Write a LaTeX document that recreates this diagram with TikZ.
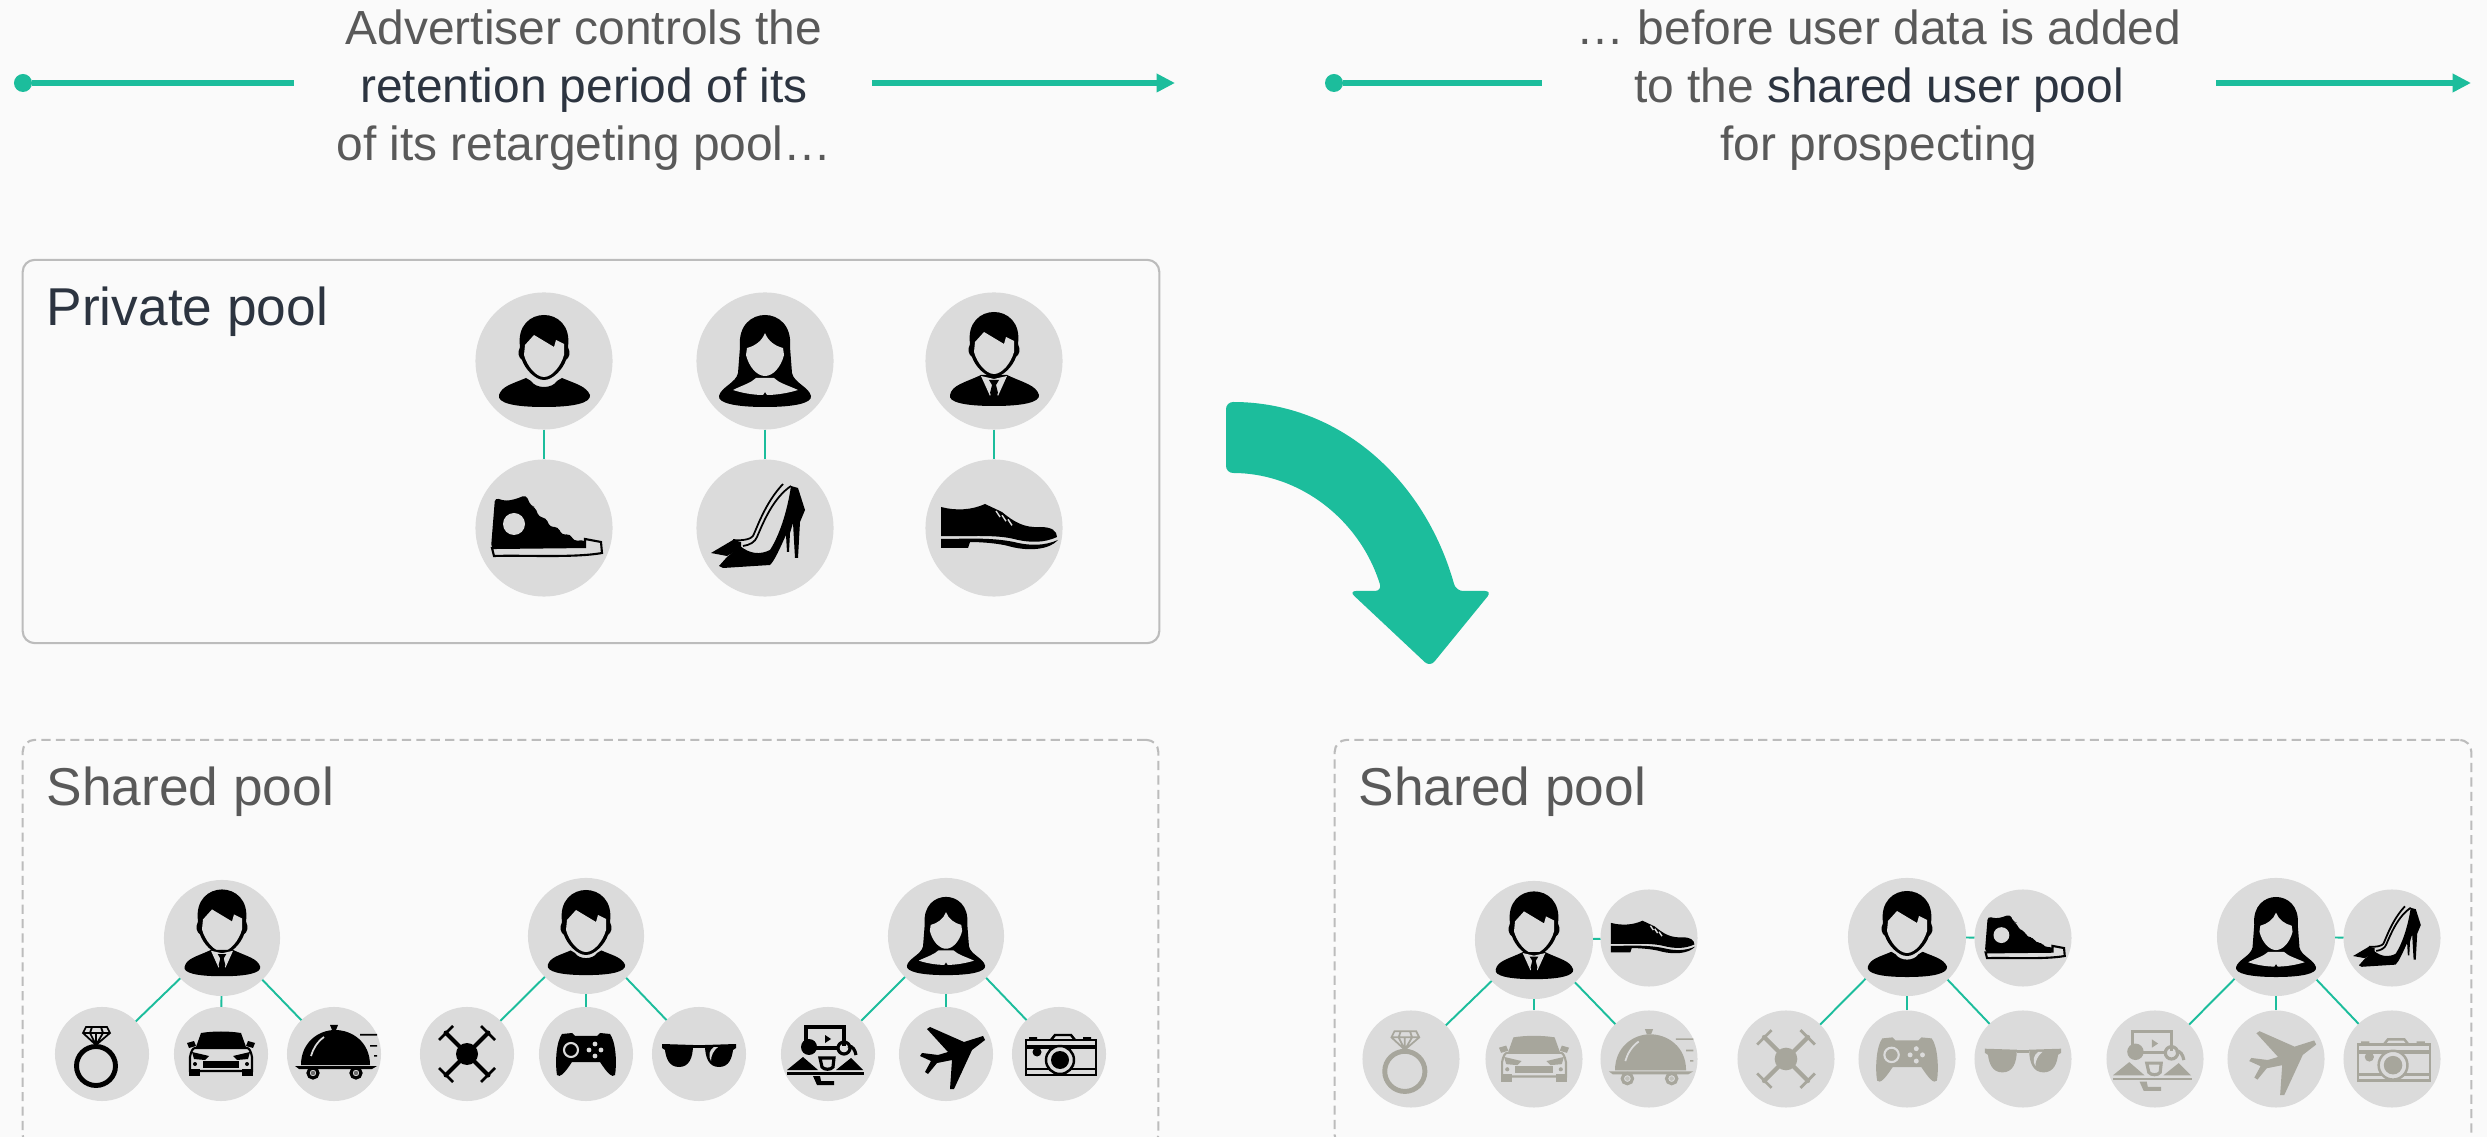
\documentclass[tikz,border=0pt]{standalone}
\usepackage{fontspec}
\setmainfont{Liberation Sans}
\usetikzlibrary{arrows.meta}
\definecolor{paper}{RGB}{250,250,250}
\definecolor{mint}{RGB}{28,189,156}
\definecolor{bubblegray}{RGB}{219,219,219}
\definecolor{ash}{RGB}{167,166,156}
\definecolor{fog}{RGB}{188,188,188}
\definecolor{slate}{RGB}{44,52,64}
\definecolor{graytext}{RGB}{89,89,89}
\tikzset{
  x=0.01cm,y=-0.01cm,
  bubble/.style={circle,fill=bubblegray,inner sep=0pt,outer sep=0pt,minimum size=#1},
  bubble/.default=1.37cm,
  link/.style={draw=mint,line width=0.55pt},
  flow/.style={draw=mint,line width=1.7pt},
  dot/.style={circle,fill=mint,inner sep=0pt,outer sep=0pt,minimum size=0.18cm},
  headline/.style={align=center,text=graytext,inner sep=0pt,
    font=\fontsize{13.62}{16.5}\selectfont},
  poolname/.style={anchor=base west,inner sep=0pt,font=\fontsize{15.15}{18}\selectfont},
  privatebox/.style={draw=fog,line width=0.6pt,rounded corners=3.4pt,inner sep=0pt},
  sharedbox/.style={privatebox,dash pattern=on 2.6pt off 1.5pt},
  % people
  pics/head/.style={code={
    \fill[#1] (-24,-14) .. controls (-27,-36) and (-13,-46) .. (0,-46) .. controls (13,-46) and (27,-36) .. (24,-14)
      .. controls (27,-8) and (25,-3) .. (22,-1) .. controls (19,8) and (9,19) .. (0,19)
      .. controls (-9,19) and (-19,8) .. (-22,-1) .. controls (-25,-3) and (-27,-8) .. (-24,-14) -- cycle;
    \fill[bubblegray] (-20,-6) -- (-19,-16) -- (-10,-26) -- (10,-14) -- (12,-21) -- (20,-17) -- (20,-6)
      .. controls (17,5) and (8,16) .. (0,16) .. controls (-8,16) and (-17,5) .. (-20,-6) -- cycle;
  }},
  pics/boy/.style={code={
    \pic at (0,0) {head=#1};
    \fill[#1] (-45,34) .. controls (-42,25) and (-32,23) .. (-18,17) -- (-13,20) .. controls (-8,28) and (8,28) .. (13,20)
      -- (18,17) .. controls (32,23) and (42,25) .. (46,34) .. controls (47,42) and (30,46) .. (0,46)
      .. controls (-30,46) and (-47,42) .. (-45,34) -- cycle;
  }},
  pics/boy/.default=black,
  pics/suit/.style={code={
    \pic at (0,-3) {head=#1};
    \fill[#1] (-44,34) .. controls (-42,24) and (-30,22) .. (-13,14) -- (13,14) .. controls (30,22) and (42,24) .. (45,34)
      .. controls (46,41) and (30,45) .. (0,45) .. controls (-30,45) and (-46,41) .. (-44,34) -- cycle;
    \fill[bubblegray] (-13,15) -- (-4,35) -- (0,24) -- (4,35) -- (13,15) -- (0,18) -- cycle;
    \fill[#1] (-5,19) -- (5,19) -- (2,24) -- (4,32) -- (0,37) -- (-4,32) -- (-2,24) -- cycle;
  }},
  pics/suit/.default=black,
  pics/girl/.style={code={
    \fill[#1] (-25,-14) .. controls (-27,-36) and (-13,-46) .. (0,-46) .. controls (13,-46) and (27,-36) .. (25,-14)
      -- (27,12) .. controls (29,22) and (44,26) .. (46,35) .. controls (47,42) and (30,46) .. (0,46)
      .. controls (-30,46) and (-47,42) .. (-46,35) .. controls (-44,26) and (-29,22) .. (-27,12) -- cycle;
    \fill[bubblegray] (-19,-6) -- (-18,-13) .. controls (-10,-15) and (-3,-20) .. (0,-28) .. controls (3,-20) and (10,-15) .. (18,-13)
      -- (19,-6) .. controls (16,6) and (8,15) .. (0,15) .. controls (-8,15) and (-16,6) .. (-19,-6) -- cycle;
    \fill[bubblegray] (-32,29) .. controls (-22,24) and (-14,22) .. (-9,17) -- (9,17) .. controls (14,22) and (22,24) .. (33,29)
      .. controls (20,33) and (8,34) .. (2,34) -- (0,31) -- (-2,34) .. controls (-8,34) and (-20,33) .. (-32,29) -- cycle;
  }},
  pics/girl/.default=black,
  % footwear
  pics/sneaker/.style={code={
    \fill[#1,rounded corners=1pt] (-49,-30) -- (-38,-27) -- (-28,-29) -- (-18,-33) -- (-13,-22) -- (-9,-21) -- (-5,-11) -- (2,-10) -- (6,-1)
      -- (14,-1) -- (18,7) -- (26,6) -- (30,13) -- (41,12) -- (44,20) -- (-53,20) -- cycle;
    \fill[bubblegray] (-30,-4) circle (11);
    \draw[#1,line width=0.6pt,fill=bubblegray] (-52,20) -- (41,19) -- (41,11) -- (57,14) -- (58,25) .. controls (30,30) and (-20,27) .. (-50,28) -- cycle;
  }},
  pics/sneaker/.default=black,
  pics/heel/.style={code={
    \fill[#1] (-54,25) -- (-32,12) -- (-24,14) -- (-24,20) -- (-38,28) -- cycle;
    \fill[#1] (-46,38) -- (-38,29) -- (-25,18) .. controls (-15,26) and (-5,27) .. (5,22) .. controls (14,8) and (22,-15) .. (26,-42)
      -- (33,-40) -- (40,-18) -- (35,-6) -- (33,30) -- (30,30) -- (28,-5) -- (25,5) -- (24,24) -- (22,24) -- (21,7)
      .. controls (15,20) and (10,32) .. (5,37) -- (-42,40) -- cycle;
    \draw[#1,line width=0.5pt] (-32,12) .. controls (-22,13) and (-14,11) .. (-12,8) .. controls (-8,0) and (0,-25) .. (18,-44);
    \draw[#1,line width=0.5pt] (-22,18) .. controls (-15,17) and (-10,14) .. (-8,9) .. controls (-2,-5) and (8,-30) .. (26,-42);
  }},
  pics/heel/.default=black,
  pics/oxford/.style={code={
    \fill[#1] (-53,-21) .. controls (-38,-17) and (-22,-18) .. (-9,-24) -- (8,-16) .. controls (20,-6) and (30,0) .. (46,-1)
      .. controls (58,-1) and (63,3) .. (63,9) .. controls (50,15) and (36,15) .. (20,11) .. controls (0,6) and (-30,9) .. (-53,8) -- cycle;
    \fill[#1] (-53,11) .. controls (-30,11) and (-5,9) .. (20,14) .. controls (36,18) and (50,18) .. (64,12)
      .. controls (55,22) and (35,23) .. (18,19) .. controls (5,15) and (-15,14) .. (-24,14) -- (-26,20) -- (-53,20) -- cycle;
    \foreach \n in {0,6,12} \draw[bubblegray,line width=0.4pt] (\n+2,-17+\n*0.7) -- (\n+6,-11+\n*0.7);
  }},
  pics/oxford/.default=black,
  % goods
  pics/ring/.style={code={
    \draw[#1,line width=1.4pt] (-6,12) circle (19.5);
    \draw[#1,line width=0.5pt] (-16,-27) -- (5,-27) -- (8,-21) -- (-6,-9) -- (-19,-21) -- cycle (-19,-21) -- (8,-21)
      (-12,-21) -- (-6,-9) -- (1,-21) (-10,-27) -- (-12,-21) (-1,-27) -- (1,-21) (-6,-21) -- (-6,-9);
  }},
  pics/car/.style={code={
    \fill[#1] (-20,-21) .. controls (-8,-23) and (8,-23) .. (20,-21) -- (25,-7) -- (-25,-7) -- cycle;
    \draw[#1,line width=0.6pt,fill=bubblegray] (-31,3) .. controls (-30,-3) and (-28,-6) .. (-26,-6) -- (26,-6)
      .. controls (28,-6) and (30,-3) .. (31,3) -- (31,17) -- (-31,17) -- cycle;
    \fill[#1] (-18,7) rectangle (18,14);
    \foreach \s in {-1,1}{
      \fill[#1] (\s*34,-11) -- (\s*27,-13) -- (\s*25,-8) -- (\s*32,-6) -- cycle;
      \fill[#1] (\s*29,-2) -- (\s*12,2) -- (\s*16,6) -- (\s*27,5) -- cycle;
      \fill[#1] (\s*32,15) rectangle (\s*21,22);
      \fill[#1] (\s*26,10) circle (2);
    }
  }},
  pics/cloche/.style={code={
    \fill[#1] (-33,11) .. controls (-33,-12) and (-15,-24) .. (1,-24) .. controls (18,-24) and (36,-12) .. (36,11) -- cycle;
    \fill[#1] (-2,-24) -- (2,-24) -- (4,-29) -- (-4,-29) -- cycle;
    \fill[#1] (-39,12) -- (43,12) -- (38,15) -- (-35,15) -- cycle;
    \draw[bubblegray,line width=0.5pt] (-10,-17) .. controls (-17,-12) and (-21,-5) .. (-23,2);
    \fill[#1] (26,-20) rectangle (43,-18.5) (36,-9) rectangle (43,-7.5) (40,1) rectangle (43,2.5);
    \foreach \s in {-21,22}{
      \draw[#1,line width=0.9pt,fill=bubblegray] (\s,19) circle (5);
      \fill[#1!50!bubblegray] (\s,19) circle (2.2);
    }
  }},
  pics/drone/.style={code={
    \foreach \sx in {-1,1} \foreach \sy in {-1,1}{
      \draw[#1,line width=1.2pt] (0,0) -- (\sx*21,\sy*21);
      \draw[#1,line width=0.8pt] (\sx*14,\sy*28) -- (\sx*28,\sy*14);
      \fill[#1] (\sx*21,\sy*21) circle (2.5);
    }
    \fill[#1] (0,0) circle (11);
  }},
  pics/gamepad/.style={code={
    \fill[#1] (-24,-20) -- (-14,-21) -- (-11,-18) -- (11,-18) -- (14,-21) -- (24,-20) .. controls (30,-12) and (31,10) .. (29,21)
      .. controls (26,24) and (22,20) .. (14,8) -- (-14,8) .. controls (-22,20) and (-26,24) .. (-29,21)
      .. controls (-31,10) and (-30,-12) .. (-24,-20) -- cycle;
    \draw[bubblegray,line width=0.6pt] (-15,-4) circle (7);
    \fill[bubblegray] (9,-10) circle (2.4) (9,2) circle (2.4) (3,-4) circle (2.4) (15,-4) circle (2.4);
  }},
  pics/shades/.style={code={
    \foreach \s in {-1,1}
      \fill[#1] (\s*37,-10) -- (\s*6,-9) .. controls (\s*6,4) and (\s*10,13) .. (\s*20,13)
        .. controls (\s*30,13) and (\s*33,4) .. (\s*34,-4) -- (\s*37,-6) -- cycle;
    \fill[#1] (-6,-9) rectangle (6,-6);
    \fill[bubblegray] (15,-7) -- (19,-7) .. controls (14,-3) and (12,2) .. (12,7) .. controls (9,2) and (10,-4) .. (15,-7) -- cycle;
  }},
  pics/dine/.style={code={
    \draw[#1,line width=0.9pt] (-22,-5) -- (-22,-27) -- (16,-27) -- (16,-8) (-12,-6) -- (10,-6);
    \fill[#1] (-3,-19) -- (-3,-11) -- (3,-15) -- cycle;
    \fill[#1] (-19,-7) circle (8);
    \draw[#1,line width=0.9pt] (16,-6) circle (6) (20,-8) .. controls (25,-8) and (27,-4) .. (28,1);
    \fill[#1] (-41,16) -- (-25,3) -- (-10,16) -- cycle (8,16) -- (23,4) -- (35,16) -- cycle;
    \fill[#1] (-41,18) rectangle (36,20.5);
    \draw[#1,line width=0.9pt] (-8,4) -- (6,4) -- (5,13) .. controls (3,16) and (-4,16) .. (-6,13) -- cycle;
    \fill[#1] (-15,22) -- (-8,22) -- (-7,27) -- (6,27) -- (6,31) -- (-11,31) -- cycle;
  }},
  pics/plane/.style={code={
    \fill[#1] (39,-14) -- (26,-4) -- (8,35) -- (4,35) -- (6,6) -- (-9,9) -- (-18,20) -- (-21,18) -- (-15,7) -- (-26,2) -- (-24,-1)
      -- (-8,1) -- (2,-2) -- (-19,-25) -- (-16,-27) -- (18,-12) -- (37,-18) -- cycle;
    \fill[#1] (-6,-15) circle (2.5) (3,-12) circle (2.5) (16,9) circle (2.5) (13,18) circle (2.5);
  }},
  pics/camera/.style={code={
    \draw[#1,line width=0.7pt] (-33,-14) rectangle (37,21);
    \draw[#1,line width=0.7pt] (-8,-14) -- (-4,-19) -- (12,-19) -- (16,-14);
    \draw[#1,line width=0.7pt] (-33,-8) -- (37,-8) (-33,-6) -- (37,-6) (-33,15) -- (37,15);
    \fill[#1] (-30,-17) rectangle (-22,-14) (24,-17) rectangle (32,-14);
    \draw[#1,line width=0.7pt,fill=bubblegray] (1,6) circle (14);
    \fill[#1] (1,6) circle (9) (-22,-2) circle (4.5);
  }},
}
\begin{document}
\begin{tikzpicture}
    \fill[paper] (0,0) rectangle (2487,1137);
    \useasboundingbox (0,0) rectangle (2487,1137);
    \clip (0,0) rectangle (2487,1137);
    % top captions
    \node[headline] (capl) at (584,90.5) {Advertiser controls the\\{\color{slate}retention period of its}\\of its retargeting pool…};
    \node[headline] (capr) at (1879,90.5) {… before user data is added\\to the {\color{slate}shared user pool}\\for prospecting};
    \foreach \xa/\xb/\xc/\xd [count=\i] in {23/294/872/1175,1334/1542/2216/2471}{
      \node[dot] (dot\i) at (\xa,83) {};
      \coordinate (a\i) at (\xb,83);
      \coordinate (b\i) at (\xc,83);
      \coordinate (c\i) at (\xd,83);
      \draw[flow] (dot\i) -- (a\i);
      \draw[flow,-{Triangle[length=5.2pt,width=5pt]}] (b\i) -- (c\i);
    }
    % pools
    \node[privatebox,minimum width=11.36cm,minimum height=3.83cm] (private) at (591,451.5) {};
    \node[sharedbox,minimum width=11.35cm,minimum height=4.07cm] (sharedl) at (590.5,943.5) {};
    \node[sharedbox,minimum width=11.36cm,minimum height=4.07cm] (sharedr) at (1903,943.5) {};
    \node[poolname,text=slate] (privname) at (46,326) {Private pool};
    \node[poolname,text=graytext] (namel) at (46,806) {Shared pool};
    \node[poolname,text=graytext] (namer) at (1358,806) {Shared pool};
    % private pool
    \foreach \x/\who/\shoe [count=\i] in {544/boy/sneaker,765/girl/heel,994/suit/oxford}{
      \node[bubble] (u\i) at (\x,361) {};
      \node[bubble] (s\i) at (\x,528) {};
      \pic at (u\i) {\who};
      \pic at (s\i) {\shoe};
      \draw[link] (u\i) -- (s\i);
    }
    % shared pool, left
    \foreach \x/\y/\who/\xa/\one/\xb/\two/\xc/\three [count=\i] in
      {222/938/suit/102/ring/221/car/334/cloche,586/936/boy/467/drone/586/gamepad/699/shades,946/936/girl/828/dine/946/plane/1059/camera}{
      \node[bubble=1.16cm] (m\i) at (\x,\y) {};
      \node[bubble=0.94cm] (ma\i) at (\xa,1054) {};
      \node[bubble=0.94cm] (mb\i) at (\xb,1054) {};
      \node[bubble=0.94cm] (mc\i) at (\xc,1054) {};
      \pic[scale=0.85] at (m\i) {\who};
      \pic at (ma\i) {\one=black};
      \pic at (mb\i) {\two=black};
      \pic at (mc\i) {\three=black};
      \draw[link] (m\i) -- (ma\i);
      \draw[link] (m\i) -- (mb\i);
      \draw[link] (m\i) -- (mc\i);
    }
    % shared pool, right
    \foreach \x/\y/\who/\shoe/\xe/\xa/\one/\xb/\two/\xc/\three [count=\i] in
      {1534/940/suit/oxford/1649/1411/ring/1534/car/1649/cloche,1907/937/boy/sneaker/2023/1786/drone/1907/gamepad/2023/shades,2276/937/girl/heel/2392/2155/dine/2276/plane/2392/camera}{
      \node[bubble=1.18cm] (n\i) at (\x,\y) {};
      \node[bubble=0.97cm] (ne\i) at (\xe,938) {};
      \node[bubble=0.97cm] (na\i) at (\xa,1059) {};
      \node[bubble=0.97cm] (nb\i) at (\xb,1059) {};
      \node[bubble=0.97cm] (nc\i) at (\xc,1059) {};
      \pic[scale=0.87] at (n\i) {\who};
      \pic[scale=0.72] at (ne\i) {\shoe};
      \pic[scale=1.03] at (na\i) {\one=ash};
      \pic[scale=1.03] at (nb\i) {\two=ash};
      \pic[scale=1.03] at (nc\i) {\three=ash};
      \draw[link] (n\i) -- (ne\i);
      \draw[link] (n\i) -- (na\i);
      \draw[link] (n\i) -- (nb\i);
      \draw[link] (n\i) -- (nc\i);
    }
    % big arrow
    \fill[mint,rounded corners=2pt] (1226,402) .. controls (1340,402) and (1425,480) .. (1456,591) -- (1492,591) -- (1430,667) -- (1349,591)
      -- (1382,591) .. controls (1360,520) and (1300,473) .. (1226,473) -- cycle;
  \end{tikzpicture}
\end{document}
